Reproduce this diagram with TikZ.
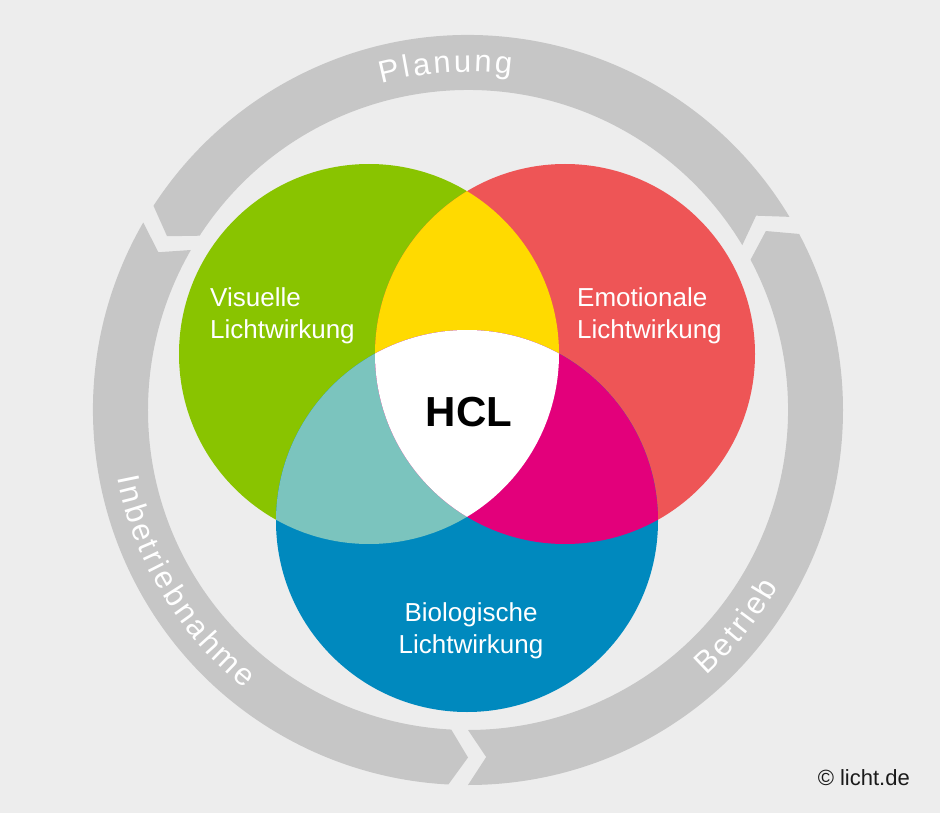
\documentclass[tikz,border=0pt]{standalone}
\usepackage{fontspec}
\setmainfont{Liberation Sans}
\usetikzlibrary{calc}
\definecolor{bg}{HTML}{EDEDED}
\definecolor{ringgray}{HTML}{C6C6C6}
\definecolor{vgreen}{HTML}{89C400}
\definecolor{vred}{HTML}{EE5556}
\definecolor{vblue}{HTML}{0089BE}
\definecolor{vyellow}{HTML}{FFDA00}
\definecolor{vteal}{HTML}{7BC4BE}
\definecolor{vmagenta}{HTML}{E3007B}
\definecolor{copytext}{HTML}{1A1A1A}
\tikzset{
  ringchar/.style={inner sep=0pt, anchor=base, text=white},
  venntext/.style={inner sep=0pt, text=white, font=\fontsize{26}{32}\selectfont},
}
% ring piece: #1 tail angle, #2 tip angle
\newcommand\ringpiece[2]{%
  \fill[ringgray, shift={(ringc)}] (#1:375) arc[start angle=#1, end angle=#2-3, radius=375]
    -- (#2:347.5) -- (#2-3:320) arc[start angle=#2-3, end angle=#1, radius=320]
    -- (#1+3:347.5) -- cycle;%
}
% text along ring: #1 radius, #2 centre angle, #3 direction (+1 ccw, -1 cw), #4 size, #5 tracking, #6 list
\newcommand\ringtext[6]{%
  \xdef\rtTotal{0}%
  \foreach \rtc/\rtw in {#6}{\pgfmathparse{\rtTotal+\rtw*#4+#5}\xdef\rtTotal{\pgfmathresult}}%
  \pgfmathparse{-(\rtTotal-#5)/2}\xdef\rtAcc{\pgfmathresult}%
  \foreach \rtc/\rtw in {#6}{%
    \pgfmathsetmacro\rtS{\rtAcc+\rtw*#4/2}%
    \pgfmathsetmacro\rtA{#2+#3*\rtS/#1*57.29578}%
    \pgfmathsetmacro\rtR{\rtA+#3*90}%
    \node[ringchar, font=\fontsize{#4}{#4}\selectfont, rotate=\rtR] at ($(ringc)+(\rtA:#1)$) {\rtc};%
    \pgfmathparse{\rtAcc+\rtw*#4+#5}\xdef\rtAcc{\pgfmathresult}%
  }%
}
\begin{document}
\begin{tikzpicture}[x=1pt,y=1pt]
\fill[bg] (0,0) rectangle (940,-813);
\useasboundingbox (0,0) rectangle (940,-813);
\coordinate (ringc) at (468,-410);
\coordinate (cg) at (369,-354);
\coordinate (cr) at (565,-354);
\coordinate (cb) at (467,-521);

% ring arrows
\ringpiece{31}{150}
\ringpiece{150}{270}
\ringpiece{270}{391}

% ring labels
\ringtext{338}{93.7}{-1}{31}{2.8}{P/0.667,l/0.222,a/0.556,n/0.556,u/0.556,n/0.556,g/0.556}
\ringtext{357}{211.1}{1}{31}{2.8}{I/0.278,n/0.556,b/0.556,e/0.556,t/0.278,r/0.333,i/0.222,e/0.556,b/0.556,n/0.556,a/0.556,h/0.556,m/0.833,e/0.556}
\ringtext{357}{321.2}{1}{31}{2.8}{B/0.667,e/0.556,t/0.278,r/0.333,i/0.222,e/0.556,b/0.556}

% Venn circles
\fill[vgreen] (cg) circle[radius=190];
\fill[vred] (cr) circle[radius=190];
\fill[vblue] (cb) circle[radius=191];
\begin{scope}
  \clip (cg) circle[radius=190];
  \fill[vyellow] (cr) circle[radius=190];
  \fill[vteal] (cb) circle[radius=191];
\end{scope}
\begin{scope}
  \clip (cr) circle[radius=190];
  \fill[vmagenta] (cb) circle[radius=191];
\end{scope}
\begin{scope}
  \clip (cg) circle[radius=190];
  \clip (cr) circle[radius=190];
  \fill[white] (cb) circle[radius=191];
\end{scope}

% labels
\node[venntext, anchor=north west, align=left] (vis) at (210,-287) {Visuelle\\Lichtwirkung};
\node[venntext, anchor=north west, align=left] (emo) at (577,-287) {Emotionale\\Lichtwirkung};
\node[venntext, anchor=north, align=center] (bio) at (471,-602) {Biologische\\Lichtwirkung};
\node[inner sep=0pt, font=\fontsize{42}{42}\selectfont\bfseries, text=black] (hcl) at (469,-412) {HCL};
\node[inner sep=0pt, anchor=base east, font=\fontsize{22}{22}\selectfont, text=copytext] (copy) at (910,-785) {© licht.de};
\end{tikzpicture}
\end{document}
